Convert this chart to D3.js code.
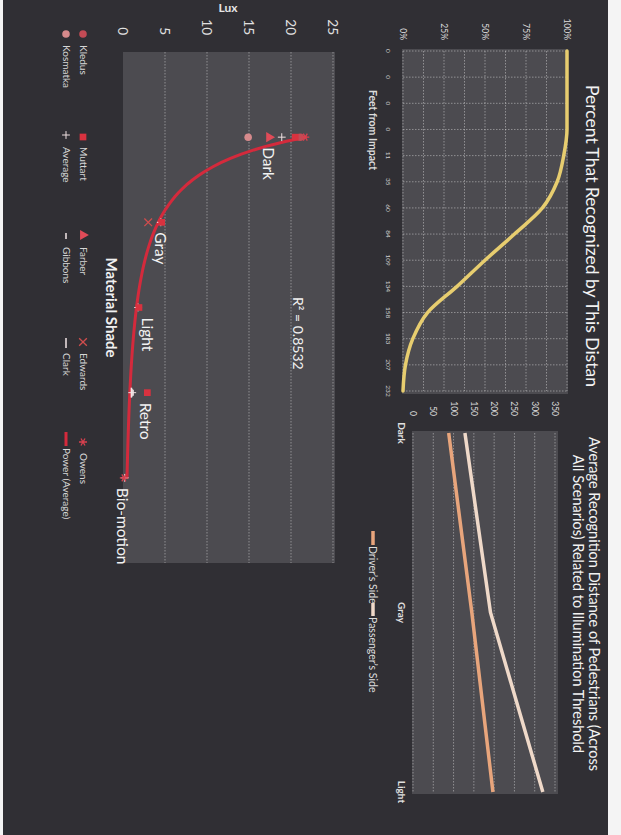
<!DOCTYPE html>
<html><head><meta charset="utf-8">
<script src="https://cdn.jsdelivr.net/npm/d3@7"></script>
<style>html,body{margin:0;padding:0;background:#fff;} svg{display:block}</style>
</head><body>
<script>
// ---------- Chart 1: Percent That Recognized by This Distance ----------
const feetFromImpact = ["0","0","0","0","11","35","60","84","109","134","158","183","207","232"];
const percentRecognized = [1.00,1.00,1.00,1.00,0.98,0.94,0.85,0.68,0.50,0.33,0.15,0.06,0.015,0.00];
const percentTicks = [0,0.25,0.5,0.75,1];

// ---------- Chart 2: Average Recognition Distance ----------
const thresholdShades = ["Dark","Gray","Light"];
const driversSide = [88,145,197];
const passengersSide = [128,191,320];
const distanceTicks = [0,50,100,150,200,250,300,350];

// ---------- Chart 3: Lux by Material Shade ----------
const materialShades = ["Dark","Gray","Light","Retro","Bio-motion"];
const luxTicks = [0,5,10,15,20,25];
const kledus   = [21.1,null,null,null,null];
const kosmatka = [14.9,null,null,null,null];
const muttart  = [20.5,4.6,1.9,2.9,null];
const farber   = [17.4,null,null,null,null];
const edwards  = [null,3.0,null,null,null];
const owens    = [21.7,null,null,null,0.1];
const average  = [18.9,4.5,1.8,1.1,0.2];
const gibbons  = [null,null,null,1.2,null];
const clark    = [null,null,null,1.0,null];
const powerCoefA = 21.7, powerCoefB = -2.37;   // Power (Average) trendline
const rSquaredText = "R² = 0.8532";
const shadeLabelLux = [16.7,3.8,2.3,2.0,-0.7];

// ---------- drawing ----------
const W = 621, H = 835;
const FONT = "Lato, 'Open Sans', sans-serif";
const svg = d3.select("body").append("svg").attr("width", W).attr("height", H);
svg.append("rect").attr("width", W).attr("height", H).attr("fill", "#f4f4f4");
svg.append("rect").attr("x", 3).attr("y", 0).attr("width", 605).attr("height", H).attr("fill", "#302f34");

// local landscape frame: lx -> screen y, ly -> screen (621 - x)
const g = svg.append("g").attr("transform", `translate(${W},0) rotate(90)`);
const PLOT = "#4c4b50", GRID = "rgba(235,235,235,0.55)";

function txt(sel, x, y, s, size, opts = {}) {
  return sel.append("text").attr("x", x).attr("y", y).text(s)
    .attr("font-family", FONT).attr("font-size", size)
    .attr("fill", opts.fill || "#e6e6e6")
    .attr("font-weight", opts.weight || 400)
    .attr("text-anchor", opts.anchor || "start");
}

// ===== Chart 1 =====
{
  const c = g.append("g");
  const x = d3.scalePoint().domain(d3.range(feetFromImpact.length)).range([51, 391]);
  const y = d3.scaleLinear().domain([0, 1]).range([218, 54]);
  c.append("rect").attr("x", 49).attr("y", 53).attr("width", 345).attr("height", 166).attr("fill", PLOT);
  c.selectAll(".vg").data(d3.range(feetFromImpact.length)).join("line")
    .attr("x1", d => x(d)).attr("x2", d => x(d)).attr("y1", y(0)).attr("y2", y(1))
    .attr("stroke", GRID).attr("stroke-width", 0.8).attr("stroke-dasharray", "1.5,1.5");
  c.selectAll(".hg").data(d3.range(0, 1.0001, 0.125)).join("line")
    .attr("x1", 51).attr("x2", 391).attr("y1", d => y(d)).attr("y2", d => y(d))
    .attr("stroke", GRID).attr("stroke-width", 0.8).attr("stroke-dasharray", "1.5,1.5");
  c.append("path").datum(percentRecognized)
    .attr("d", d3.line().x((d, i) => x(i)).y(d => y(d)).curve(d3.curveMonotoneX))
    .attr("fill", "none").attr("stroke", "#e7cd6f").attr("stroke-width", 3.5).attr("stroke-linecap", "round");
  percentTicks.forEach(t => txt(c, 40, y(t) + 3, d3.format(".0%")(t), 8.5, { anchor: "end", fill: "#dcdcdc" }));
  feetFromImpact.forEach((f, i) => txt(c, x(i), 235, f, 6.5, { anchor: "middle", fill: "#d0d0d0" }));
  txt(c, 130, 252, "Feet from Impact", 10.5, { anchor: "middle", weight: 700, fill: "#dcdcdc" });
  txt(c, 85, 35, "Percent That Recognized by This Distan", 17.5, { fill: "#f2f2f2" });
}

// ===== Chart 2 =====
{
  const c = g.append("g");
  const x = d3.scalePoint().domain(thresholdShades).range([433, 792]);
  const y = d3.scaleLinear().domain([0, 350]).range([208, 66]);
  c.append("rect").attr("x", 431).attr("y", 63).attr("width", 363).attr("height", 146).attr("fill", PLOT);
  c.selectAll(".hg").data(distanceTicks).join("line")
    .attr("x1", 433).attr("x2", 792).attr("y1", d => y(d)).attr("y2", d => y(d))
    .attr("stroke", GRID).attr("stroke-width", 0.8).attr("stroke-dasharray", "1.5,1.5");
  const line = d3.line().x((d, i) => x(thresholdShades[i])).y(d => y(d));
  c.append("path").datum(driversSide).attr("d", line)
    .attr("fill", "none").attr("stroke", "#e8a57c").attr("stroke-width", 3.5);
  c.append("path").datum(passengersSide).attr("d", line)
    .attr("fill", "none").attr("stroke", "#efd9c9").attr("stroke-width", 3.5);
  distanceTicks.forEach(t => txt(c, 416, y(t) + 3, t, 8.5, { anchor: "end", fill: "#dcdcdc" }));
  thresholdShades.forEach(s => txt(c, x(s), 223, s, 10, { anchor: "middle", weight: 700, fill: "#e0e0e0" }));
  txt(c, 604, 32, "Average Recognition Distance of Pedestrians (Across", 14.5, { anchor: "middle", fill: "#f2f2f2" });
  txt(c, 604, 48, "All Scenarios) Related to Illumination Threshold", 14.5, { anchor: "middle", fill: "#f2f2f2" });
  // legend
  c.append("line").attr("x1", 531).attr("x2", 545).attr("y1", 248).attr("y2", 248).attr("stroke", "#e8a57c").attr("stroke-width", 3.5);
  txt(c, 546, 252, "Driver’s Side", 10.5, { fill: "#dcdcdc" });
  c.append("line").attr("x1", 603).attr("x2", 616).attr("y1", 248).attr("y2", 248).attr("stroke", "#efd9c9").attr("stroke-width", 3.5);
  txt(c, 617, 252, "Passenger’s Side", 10.5, { fill: "#dcdcdc" });
}

// ===== Chart 3 =====
{
  const c = g.append("g");
  const x = d3.scaleLinear().domain([0, 6]).range([52, 563]);
  const y = d3.scaleLinear().domain([0, 25]).range([498, 288]);
  c.append("rect").attr("x", 52).attr("y", 286).attr("width", 511).attr("height", 212).attr("fill", PLOT);
  c.selectAll(".hg").data(luxTicks.slice(1)).join("line")
    .attr("x1", 52).attr("x2", 563).attr("y1", d => y(d)).attr("y2", d => y(d))
    .attr("stroke", GRID).attr("stroke-width", 0.8).attr("stroke-dasharray", "1.5,1.5");
  luxTicks.forEach(t => txt(c, 35, y(t) + 5, t, 13.5, { anchor: "end", fill: "#e0e0e0" }));
  c.append("text").attr("transform", `translate(12,${y(12.5)}) rotate(-90)`).text("Lux")
    .attr("font-family", FONT).attr("font-size", 12).attr("font-weight", 700).attr("fill", "#e6e6e6").attr("text-anchor", "middle");
  txt(c, x(3), 515, "Material Shade", 15, { anchor: "middle", weight: 700, fill: "#f0f0f0" });

  const dash = w => ({ draw(ctx, size) { ctx.moveTo(-w, 0); ctx.lineTo(w, 0); } });
  const series = [
    { name: "Average", v: average, sym: d3.symbolPlus, size: 22, stroke: "#eee0e0", sw: 1 },
    { name: "Kledus", v: kledus, sym: d3.symbolCircle, size: 45, fill: "#c34b55" },
    { name: "Muttart", v: muttart, sym: d3.symbolSquare, size: 45, fill: "#d8323f" },
    { name: "Farber", v: farber, sym: d3.symbolTriangle, size: 45, fill: "#e04b58" },
    { name: "Edwards", v: edwards, sym: d3.symbolTimes, size: 40, stroke: "#cf4d4d", sw: 1.3 },
    { name: "Owens", v: owens, sym: d3.symbolAsterisk, size: 45, stroke: "#d8404e", sw: 1.3 },
    { name: "Kosmatka", v: kosmatka, sym: d3.symbolCircle, size: 45, fill: "#d68a8c" },
    { name: "Gibbons", v: gibbons, sym: dash(3), size: 40, stroke: "#f2e6e6", sw: 1.5 },
    { name: "Clark", v: clark, sym: dash(5), size: 40, stroke: "#f2e6e6", sw: 1.5 }
  ];
  const drawSym = (sel, s, px, py) => sel.append("path")
    .attr("d", d3.symbol().type(s.sym).size(s.size)())
    .attr("transform", `translate(${px},${py})`)
    .attr("fill", s.fill || "none").attr("stroke", s.stroke || "none").attr("stroke-width", s.sw || 0);

  // trendline
  const tx = d3.range(1, 5.0001, 0.05);
  c.append("path").datum(tx)
    .attr("d", d3.line().x(d => x(d)).y(d => y(powerCoefA * Math.pow(d, powerCoefB))))
    .attr("fill", "none").attr("stroke", "#d42a3c").attr("stroke-width", 3).attr("stroke-linecap", "round");

  series.forEach(s => s.v.forEach((val, i) => { if (val != null) drawSym(c, s, x(i + 1), y(val)); }));

  materialShades.forEach((m, i) => txt(c, x(i + 1) + 10, y(shadeLabelLux[i]), m, 15.5, { fill: "#f2f2f2" }));
  txt(c, 297, 328, rSquaredText, 14, { fill: "#f2f2f2" });

  // legend
  const legPos = {
    Kledus: [34, 538, 45], Muttart: [137, 538, 147], Farber: [235, 538, 247], Edwards: [342, 538, 353],
    Owens: [442, 538, 453], Kosmatka: [34, 555, 45], Average: [135, 555, 147], Gibbons: [236, 555, 247], Clark: [343, 555, 353]
  };
  series.forEach(s => {
    const p = legPos[s.name];
    drawSym(c, s, p[0], p[1]);
    txt(c, p[2], p[1] + 3.5, s.name, 10, { fill: "#d6d6d6" });
  });
  c.append("line").attr("x1", 432).attr("x2", 446).attr("y1", 555).attr("y2", 555).attr("stroke", "#d42a3c").attr("stroke-width", 3);
  txt(c, 448, 558.5, "Power (Average)", 10, { fill: "#d6d6d6" });
}
</script>
</body></html>
